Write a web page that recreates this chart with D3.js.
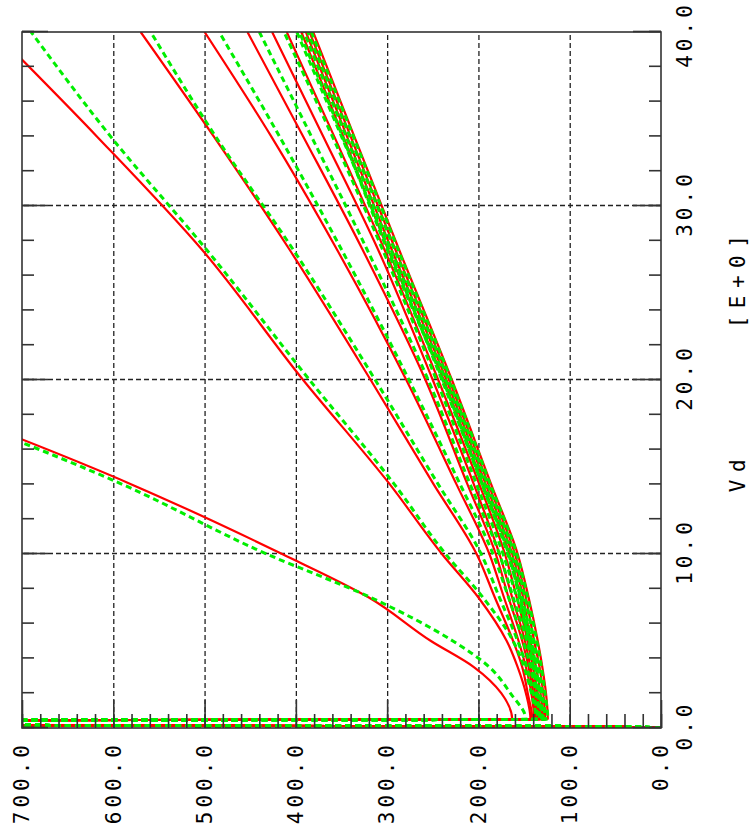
<!DOCTYPE html>
<html>
<head>
<meta charset="utf-8">
<script src="https://cdn.jsdelivr.net/npm/d3@7"></script>
<style>
body{margin:0;background:#fff;}
svg{display:block;}
.lbl text{font-family:"DejaVu Sans Mono",monospace;font-size:21px;letter-spacing:4px;fill:#000;}
.title{font-family:"DejaVu Sans Mono",monospace;font-size:21px;letter-spacing:7.5px;fill:#000;}
.grid line{stroke:#222;stroke-width:1.3;stroke-dasharray:5,3;}
.ticks line{stroke:#333;stroke-width:1.6;}
</style>
</head>
<body>
<div id="canvas"></div>
<script>
// Vd samples (the chart is drawn as usual and then turned a quarter turn)
var vdGrid = [0.5, 2, 3.5, 5, 7.5, 10, 14, 20, 27.5, 34, 40];
// start-up spike near Vd = 0, shared by every curve
var spikeVd = [0, 0.08, 0.2, 0.42];
var spikeVal = [0, 60, 1000, 1000];

// red (solid) curves
var redA = [163, 175, 205, 252, 320, 415, 580, 870];
var redB = [143, 148, 157, 169, 200, 240, 297, 392, 503, 618, 730];
var redC = [141, 146, 152, 162, 182, 202, 249, 318, 407, 490, 570];
var redD = [139, 142, 148, 156, 172, 188, 224, 279, 355, 427, 500];
var redE = [137, 140, 145, 152, 167, 181, 212, 258, 327, 392, 453];
var redF = [135, 138, 143, 149, 163, 177, 205, 250, 310, 370, 426];
var redG = [133, 136, 140, 146, 158, 171, 199, 244, 303, 358, 410];
var redH1 = [131, 135, 140, 146, 154, 166, 195, 238, 299, 348, 394];
var redH2 = [129, 132, 137, 143, 151, 163, 192, 235, 295, 344, 389];
var redH3 = [127, 129, 133, 139, 148, 160, 189, 232, 291, 340, 385];
var redH4 = [124, 126, 130, 135, 145, 157, 186, 229, 287, 336, 381];

// green (dashed) curves
var greenA = [148, 165, 188, 228, 318, 432, 590, 880];
var greenB = [137, 142, 150, 162, 195, 236, 292, 385, 498, 603, 690];
var greenC = [135, 140, 147, 157, 177, 197, 244, 313, 403, 488, 559];
var greenD = [133, 137, 143, 151, 167, 184, 220, 276, 350, 418, 484];
var greenE = [131, 135, 140, 147, 162, 177, 209, 255, 322, 383, 440];
var greenF = [129, 133, 138, 144, 158, 173, 202, 246, 305, 360, 413];
var greenG = [127, 131, 136, 142, 154, 168, 196, 240, 298, 350, 399];
var greenH1 = [133, 136, 140, 145, 155, 167, 196, 239, 300, 349, 396];
var greenH2 = [130, 133, 137, 142, 152, 164, 193, 236, 296, 345, 391];
var greenH3 = [127, 130, 134, 139, 149, 161, 190, 233, 292, 341, 387];
var greenH4 = [124, 127, 131, 136, 146, 158, 187, 230, 288, 337, 383];

var redSeries = [redA, redB, redC, redD, redE, redF, redG, redH1, redH2, redH3, redH4];
var greenSeries = [greenA, greenB, greenC, greenD, greenE, greenF, greenG, greenH1, greenH2, greenH3, greenH4];

// ticks
var vdMajor = [0, 10, 20, 30, 40];
var vdMinor = d3.range(0, 41, 2);
var valMajor = [0, 100, 200, 300, 400, 500, 600, 700];
var valMinor = d3.range(0, 701, 20);

var outerWidth = 751, outerHeight = 839;
var w = 696, h = 639;   // Vd length and value length before turning

var svg = d3.select('#canvas')
    .append('svg')
    .attr('width', outerWidth)
    .attr('height', outerHeight);

var plot = svg.append('g')
    .attr('transform', 'translate(22,728) rotate(-90)');

var scaleX = d3.scaleLinear().domain([0, 40]).range([0, w]);
var scaleY = d3.scaleLinear().domain([0, 700]).range([h, 0]);

// dashed grid
plot.append('g').attr('class', 'grid')
    .attr('transform', 'translate(0,' + h + ')')
    .call(d3.axisBottom(scaleX).tickValues([10, 20, 30]).tickSize(-h).tickFormat(''))
    .call(function(g){ g.select('.domain').remove(); });
plot.append('g').attr('class', 'grid')
    .call(d3.axisLeft(scaleY).tickValues([100, 200, 300, 400, 500, 600]).tickSize(-w).tickFormat(''))
    .call(function(g){ g.select('.domain').remove(); });

// curves
plot.append('clipPath').attr('id', 'clip')
    .append('rect').attr('width', w).attr('height', h);

var line = d3.line()
    .x(function(d){ return scaleX(d[0]); })
    .y(function(d){ return scaleY(d[1]); })
    .curve(d3.curveMonotoneX);

function points(vals){
    var pre = spikeVd.map(function(v, i){ return [v, spikeVal[i]]; });
    return pre.concat(vals.map(function(v, i){ return [vdGrid[i], v]; }));
}

var curves = plot.append('g').attr('clip-path', 'url(#clip)');

curves.selectAll('.red')
    .data(redSeries)
    .enter()
    .append('path')
    .attr('class', 'red')
    .attr('d', function(d){ return line(points(d)); })
    .style('fill', 'none')
    .style('stroke', '#ff0000')
    .style('stroke-width', 2.2);

curves.selectAll('.green')
    .data(greenSeries)
    .enter()
    .append('path')
    .attr('class', 'green')
    .attr('d', function(d){ return line(points(d)); })
    .style('fill', 'none')
    .style('stroke', '#00ee00')
    .style('stroke-width', 3)
    .style('stroke-dasharray', '6,4');

// frame
plot.append('rect')
    .attr('width', w).attr('height', h)
    .style('fill', 'none')
    .style('stroke', '#333')
    .style('stroke-width', 1.6);

// inward ticks
function ticks(axis, vals, size, tr){
    var g = plot.append('g').attr('class', 'ticks');
    if (tr) g.attr('transform', tr);
    g.call(axis.tickValues(vals).tickSizeInner(size).tickSizeOuter(0).tickFormat(''));
    g.select('.domain').remove();
}
ticks(d3.axisBottom(scaleX), vdMinor, -12, 'translate(0,' + h + ')');
ticks(d3.axisBottom(scaleX), vdMajor, -28, 'translate(0,' + h + ')');
ticks(d3.axisTop(scaleX), vdMinor, -12);
ticks(d3.axisTop(scaleX), vdMajor, -26);
ticks(d3.axisLeft(scaleY), valMinor, -14);
ticks(d3.axisLeft(scaleY), valMajor, -28);

// tick labels
var fmt = d3.format('.1f');
plot.append('g').attr('class', 'lbl')
    .attr('transform', 'translate(0,' + h + ')')
    .call(d3.axisBottom(scaleX).tickValues(vdMajor).tickSize(0).tickPadding(16).tickFormat(fmt))
    .call(function(g){
        g.select('.domain').remove();
        g.selectAll('text').attr('dx', function(d){ return d === 40 ? -3 : 2; });
    });
plot.append('g').attr('class', 'lbl')
    .call(d3.axisLeft(scaleY).tickValues(valMajor).tickSize(0).tickPadding(13).tickFormat(fmt))
    .call(function(g){ g.select('.domain').remove(); });

// axis title
plot.append('text').attr('class', 'title')
    .attr('x', 256).attr('y', 716)
    .attr('text-anchor', 'middle')
    .attr('dominant-baseline', 'central')
    .text('Vd');
plot.append('text').attr('class', 'title')
    .attr('x', 450).attr('y', 716)
    .attr('text-anchor', 'middle')
    .attr('dominant-baseline', 'central')
    .text('[E+0]');
</script>
</body>
</html>
